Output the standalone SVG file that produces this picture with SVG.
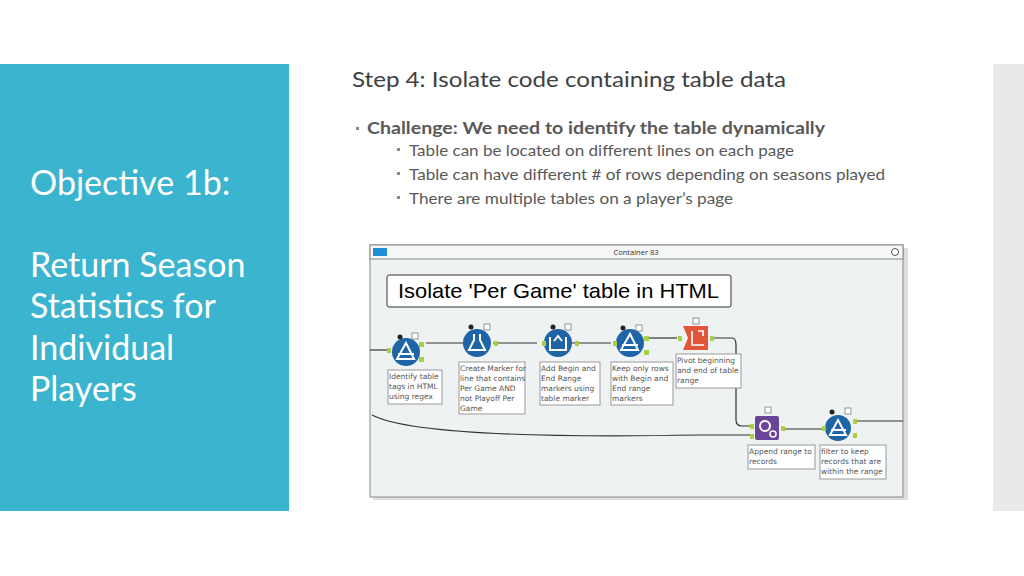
<svg xmlns="http://www.w3.org/2000/svg" width="1024" height="576" viewBox="0 0 1024 576">
<style>
.t{font-family:"Open Sans","Liberation Sans",sans-serif}
.h{font-family:"Lato","Liberation Sans",sans-serif;fill:#404040}
.lb{font-family:"DejaVu Sans",sans-serif;font-size:7.5px;fill:#555}
.box{fill:#fff;stroke:#999;stroke-width:1}
.c{fill:none;stroke:#333;stroke-width:1.2}
.blue{fill:#1e64a6}
.anc{fill:#a8cf45}
</style>
<rect width="1024" height="576" fill="#fff"/>
<rect x="0" y="64" width="289" height="447" fill="#3bb4cf"/>
<rect x="993" y="64" width="31" height="447" fill="#e9e9e9"/>
<g fill="#fff" font-family="Lato,'Liberation Sans',sans-serif" font-size="34">
<text x="30" y="195">Objective 1b:</text>
<text x="30" y="277">Return Season</text>
<text x="30" y="318">Statistics for</text>
<text x="30" y="360">Individual</text>
<text x="30" y="401">Players</text>
</g>
<text class="h" x="352" y="87" font-size="21" textLength="434" lengthAdjust="spacingAndGlyphs">Step 4: Isolate code containing table data</text>
<g class="h">
<rect x="356" y="127" width="3" height="3" fill="#888"/>
<text x="367" y="134" font-size="17" font-weight="bold" fill="#595959" textLength="458" lengthAdjust="spacingAndGlyphs">Challenge: We need to identify the table dynamically</text>
<rect x="397" y="148" width="3" height="3" fill="#888"/>
<text x="409" y="156" font-size="16" fill="#595959" textLength="385" lengthAdjust="spacingAndGlyphs">Table can be located on different lines on each page</text>
<rect x="397" y="172" width="3" height="3" fill="#888"/>
<text x="409" y="180" font-size="16" fill="#595959" textLength="476" lengthAdjust="spacingAndGlyphs">Table can have different # of rows depending on seasons played</text>
<rect x="397" y="196" width="3" height="3" fill="#888"/>
<text x="409" y="204" font-size="16" fill="#595959" textLength="324" lengthAdjust="spacingAndGlyphs">There are multiple tables on a player’s page</text>
</g>
<g id="container">
<rect x="373" y="248" width="535" height="252" fill="#c8c8c8" opacity="0.6"/>
<rect x="370" y="245" width="533" height="252" fill="#eef2f3" stroke="#888"/>
<rect x="370" y="245" width="533" height="14" fill="#f4f6f7" stroke="#888"/>
<rect x="373" y="248" width="14" height="8" fill="#1e8fd6"/>
<text x="636" y="255" class="t" font-size="7.5" text-anchor="middle" fill="#333">Container 83</text>
<circle cx="895" cy="252" r="3.5" fill="#fff" stroke="#555"/>
<rect x="387" y="275" width="344" height="32" rx="2" fill="#fff" stroke="#333"/>
<text x="398" y="298" font-family="Liberation Sans,Arial,sans-serif" font-size="21" fill="#000" textLength="321" lengthAdjust="spacingAndGlyphs">Isolate 'Per Game' table in HTML</text>
</g>
<g id="connectors">
<path class="c" d="M370 350 H390"/>
<path class="c" d="M426 343 H466"/>
<path class="c" d="M493 343 H537"/>
<path class="c" d="M563 343 H611"/>
<path class="c" d="M647 338 H677"/>
<path class="c" d="M712 338 H732 Q736 338 736 345 V420 Q736 426 742 426 H752"/>
<path class="c" d="M372 415 Q420 440 700 435 H752"/>
<path class="c" d="M785 429 H822"/>
<path class="c" d="M855 421 H903"/>
</g>
<g id="n1">
<circle cx="406" cy="352" r="14" class="blue"/><path d="M397 359 L406 343 L414 359 Z M398 354 H414" fill="none" stroke="#fff" stroke-width="2"/>
<rect x="387" y="348" width="4" height="5" class="anc"/><rect x="419" y="342" width="5" height="5" class="anc"/><rect x="419" y="357" width="5" height="5" class="anc"/>
<circle cx="400" cy="337" r="2.5" fill="#222"/><rect x="412" y="333" width="6" height="6" fill="#fff" stroke="#555" stroke-width="0.6"/>
<rect x="388" y="370" width="54" height="34" class="box"/>
<text class="lb"><tspan x="389" y="379">Identify table</tspan><tspan x="389" y="389">tags in HTML</tspan><tspan x="389" y="399">using regex</tspan></text>
</g>
<g id="n2">
<circle cx="477" cy="343" r="14" class="blue"/><path d="M474 334 V340 L469 350 H485 L480 340 V334" fill="none" stroke="#fff" stroke-width="2"/>
<rect x="494" y="341" width="4" height="5" class="anc"/>
<circle cx="471" cy="327" r="2.5" fill="#222"/><rect x="484" y="324" width="6" height="6" fill="#fff" stroke="#555" stroke-width="0.6"/>
<rect x="459" y="362" width="66" height="52" class="box"/>
<text class="lb"><tspan x="460" y="371">Create Marker for</tspan><tspan x="460" y="381">line that contains</tspan><tspan x="460" y="391">Per Game AND</tspan><tspan x="460" y="401">not Playoff Per</tspan><tspan x="460" y="411">Game</tspan></text>
</g>
<g id="n3">
<circle cx="558" cy="343" r="14" class="blue"/><path d="M550 337 V350 H566 V337 M554 341 L558 336 L562 341" fill="none" stroke="#fff" stroke-width="2"/>
<rect x="542" y="341" width="4" height="5" class="anc"/><rect x="575" y="341" width="4" height="5" class="anc"/>
<circle cx="553" cy="327" r="2.5" fill="#222"/><rect x="565" y="324" width="6" height="6" fill="#fff" stroke="#555" stroke-width="0.6"/>
<rect x="540" y="362" width="60" height="43" class="box"/>
<text class="lb"><tspan x="541" y="371">Add Begin and</tspan><tspan x="541" y="381">End Range</tspan><tspan x="541" y="391">markers using</tspan><tspan x="541" y="401">table marker</tspan></text>
</g>
<g id="n4">
<circle cx="630" cy="343" r="14" class="blue"/><path d="M621 350 L630 334 L638 350 Z M622 345 H638" fill="none" stroke="#fff" stroke-width="2"/>
<rect x="613" y="341" width="4" height="5" class="anc"/><rect x="644" y="336" width="5" height="5" class="anc"/><rect x="644" y="350" width="5" height="5" class="anc"/>
<circle cx="623" cy="328" r="2.5" fill="#222"/><rect x="636" y="325" width="6" height="6" fill="#fff" stroke="#555" stroke-width="0.6"/>
<rect x="611" y="362" width="62" height="43" class="box"/>
<text class="lb"><tspan x="612" y="371">Keep only rows</tspan><tspan x="612" y="381">with Begin and</tspan><tspan x="612" y="391">End range</tspan><tspan x="612" y="401">markers</tspan></text>
</g>
<g id="n5">
<path d="M683 326 H708 V350 H683 L688 338 Z" fill="#e2553b"/><path d="M692 331 V345 H704 M698 331 H703 V336" fill="none" stroke="#fff" stroke-width="1.6"/>
<rect x="678" y="336" width="4" height="5" class="anc"/><rect x="710" y="336" width="4" height="5" class="anc"/>
<rect x="693" y="318" width="6" height="6" fill="#fff" stroke="#555" stroke-width="0.6"/>
<rect x="676" y="354" width="65" height="34" class="box"/>
<text class="lb"><tspan x="677" y="363">Pivot beginning</tspan><tspan x="677" y="373">and end of table</tspan><tspan x="677" y="383">range</tspan></text>
</g>
<g id="n6">
<rect x="755" y="416" width="24" height="24" rx="2" fill="#6a4597"/><circle cx="765" cy="426" r="5" fill="none" stroke="#fff" stroke-width="2"/><circle cx="773" cy="434" r="3" fill="none" stroke="#fff" stroke-width="1.5"/>
<rect x="750" y="424" width="4" height="5" class="anc"/><rect x="750" y="434" width="4" height="5" class="anc"/><rect x="781" y="426" width="4" height="5" class="anc"/>
<rect x="765" y="407" width="6" height="6" fill="#fff" stroke="#555" stroke-width="0.6"/>
<rect x="748" y="445" width="67" height="24" class="box"/>
<text class="lb"><tspan x="749" y="454">Append range to</tspan><tspan x="749" y="464">records</tspan></text>
</g>
<g id="n7">
<circle cx="838" cy="428" r="13" class="blue"/><path d="M830 435 L838 420 L846 435 Z M831 430 H846" fill="none" stroke="#fff" stroke-width="2"/>
<rect x="822" y="426" width="4" height="5" class="anc"/><rect x="853" y="419" width="4" height="5" class="anc"/><rect x="853" y="433" width="4" height="5" class="anc"/>
<circle cx="832" cy="412" r="2.5" fill="#222"/><rect x="845" y="408" width="6" height="6" fill="#fff" stroke="#555" stroke-width="0.6"/>
<rect x="820" y="445" width="66" height="34" class="box"/>
<text class="lb"><tspan x="821" y="454">filter to keep</tspan><tspan x="821" y="464">records that are</tspan><tspan x="821" y="474">within the range</tspan></text>
</g>
</svg>
